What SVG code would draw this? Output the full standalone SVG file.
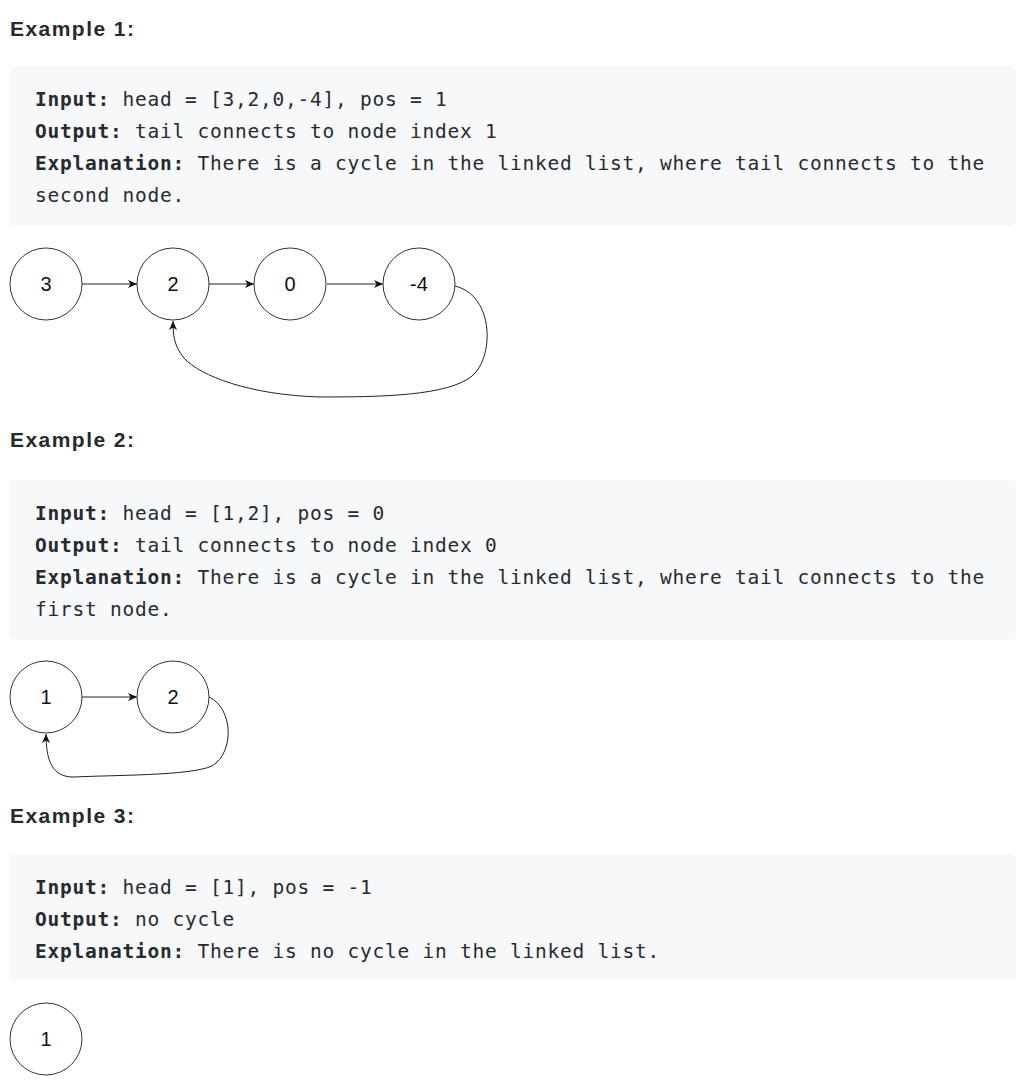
<svg xmlns="http://www.w3.org/2000/svg" width="1032" height="1088" viewBox="0 0 1032 1088">
<style>
.h{font-family:"Liberation Sans",Arial,sans-serif;font-weight:bold;font-size:21px;fill:#262b30}
.box{fill:#f7f8fa}
.m{font-family:"DejaVu Sans Mono","Liberation Mono",monospace;font-size:19.5px;letter-spacing:0.76px;fill:#262b30}
.b{font-weight:bold}
.node circle{fill:#fff;stroke:#333;stroke-width:1}
.node text{font-family:"Liberation Sans",Arial,sans-serif;font-size:20px;fill:#111;text-anchor:middle}
.edge{fill:none;stroke:#222;stroke-width:1;marker-end:url(#arr)}
</style>
<defs>
<marker id="arr" viewBox="0 0 10 8" refX="9" refY="4" markerWidth="10" markerHeight="8" markerUnits="userSpaceOnUse" orient="auto">
<path d="M0,0 L9,4 L0,8 L2.5,4 z" fill="#111"/>
</marker>
</defs>
<rect width="1032" height="1088" fill="#fff"/>

<g id="example1-text">
<text class="h" x="10" y="36" textLength="124">Example 1:</text>
<rect class="box" x="10" y="66" width="1006" height="160" rx="5"/>
<text class="m" x="35" y="106"><tspan class="b">Input:</tspan> head = [3,2,0,-4], pos = 1</text>
<text class="m" x="35" y="138"><tspan class="b">Output:</tspan> tail connects to node index 1</text>
<text class="m" x="35" y="170"><tspan class="b">Explanation:</tspan> There is a cycle in the linked list, where tail connects to the</text>
<text class="m" x="35" y="202">second node.</text>
</g>

<g id="example2-text">
<text class="h" x="10" y="447" textLength="124">Example 2:</text>
<rect class="box" x="10" y="480" width="1006" height="160" rx="5"/>
<text class="m" x="35" y="520"><tspan class="b">Input:</tspan> head = [1,2], pos = 0</text>
<text class="m" x="35" y="552"><tspan class="b">Output:</tspan> tail connects to node index 0</text>
<text class="m" x="35" y="584"><tspan class="b">Explanation:</tspan> There is a cycle in the linked list, where tail connects to the</text>
<text class="m" x="35" y="616">first node.</text>
</g>

<g id="example3-text">
<text class="h" x="10" y="823" textLength="124">Example 3:</text>
<rect class="box" x="10" y="854" width="1006" height="127" rx="5"/>
<text class="m" x="35" y="894"><tspan class="b">Input:</tspan> head = [1], pos = -1</text>
<text class="m" x="35" y="926"><tspan class="b">Output:</tspan> no cycle</text>
<text class="m" x="35" y="958"><tspan class="b">Explanation:</tspan> There is no cycle in the linked list.</text>
</g>

<g id="connectors">
<path class="edge" d="M82,284 L137,284"/>
<path class="edge" d="M209,284 L254,284"/>
<path class="edge" d="M327,284 L383,284"/>
<path class="edge" d="M455,286 C495,296 494,358 472,376 C448,396 380,397 320,397 C250,395 200,376 184,358 C174,346 173,335 173,321"/>
<path class="edge" d="M82,697 L137,697"/>
<path class="edge" d="M209,697 C233,708 235,752 212,766 C190,776 110,775 75,777 C52,778 46,760 46,734"/>
</g>

<g id="e1-n3" class="node"><circle cx="46" cy="284" r="36"/><text x="46" y="291">3</text></g>
<g id="e1-n2" class="node"><circle cx="173" cy="284" r="36"/><text x="173" y="291">2</text></g>
<g id="e1-n0" class="node"><circle cx="290" cy="284" r="36"/><text x="290" y="291">0</text></g>
<g id="e1-n-4" class="node"><circle cx="419" cy="284" r="36"/><text x="419" y="291">-4</text></g>

<g id="e2-n1" class="node"><circle cx="46" cy="697" r="36"/><text x="46" y="704">1</text></g>
<g id="e2-n2" class="node"><circle cx="173" cy="697" r="36"/><text x="173" y="704">2</text></g>

<g id="e3-n1" class="node"><circle cx="46" cy="1039" r="36"/><text x="46" y="1046">1</text></g>
</svg>
